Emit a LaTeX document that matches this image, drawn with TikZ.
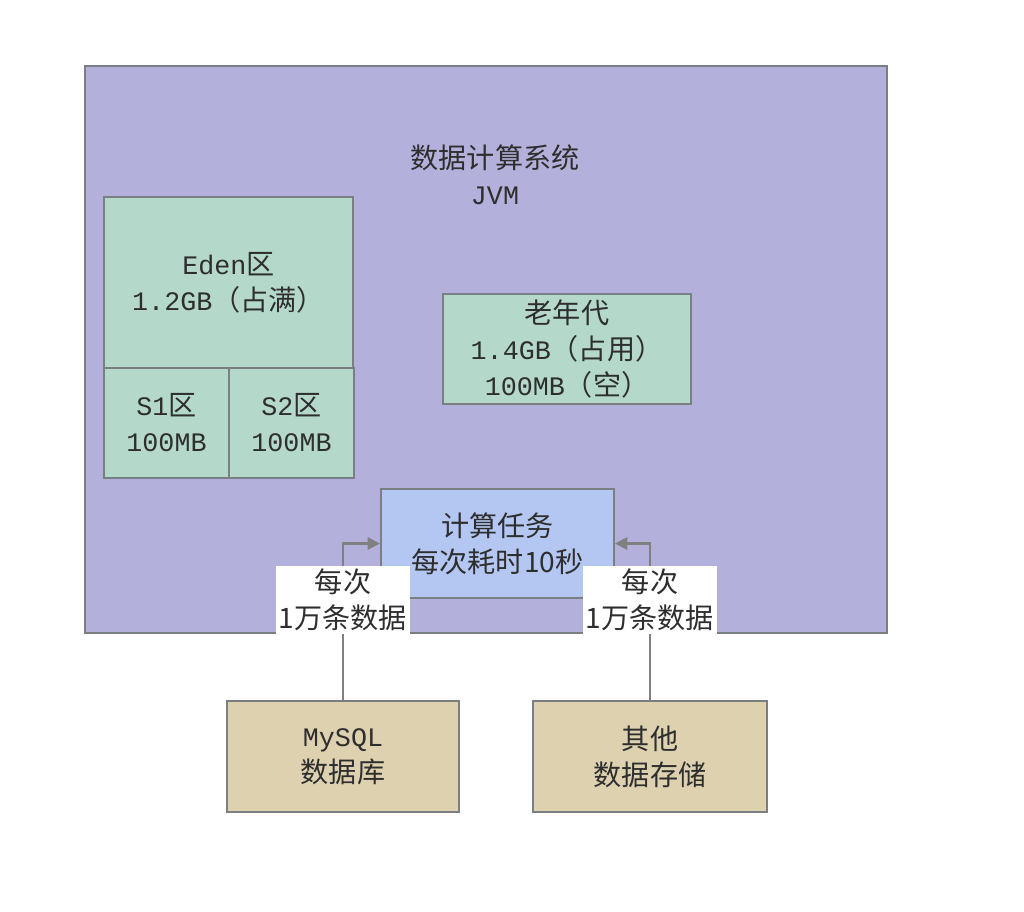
\documentclass[tikz,border=0pt]{standalone}
\usepackage{fontspec}
\setmainfont{Noto Sans CJK SC}
\newfontfamily\mono[Scale=0.95]{Liberation Mono}
\usetikzlibrary{arrows.meta, positioning}

\definecolor{jvmfill}{HTML}{B3B1DB}
\definecolor{genfill}{HTML}{B4D9CB}
\definecolor{taskfill}{HTML}{B4C7F2}
\definecolor{storefill}{HTML}{DDD1AF}
\definecolor{edgegray}{HTML}{7A7F82}
\definecolor{linegray}{HTML}{808080}
\definecolor{txt}{HTML}{2E2E2E}

\begin{document}
\begin{tikzpicture}[x=0.02cm, y=-0.02cm,
    font=\fontsize{16}{20.5}\selectfont, text=txt,
    box/.style={rectangle, draw=edgegray, line width=1.2pt, align=center, inner sep=0pt},
    flow/.style={draw=linegray, line width=1.2pt, -{Triangle[length=7pt, width=7pt]}},
    tag/.style={fill=white, align=center, inner sep=1.5pt}]
   \useasboundingbox (0,0) rectangle (1024,912);
        % Define nodes
        \node (jvm) [box, fill=jvmfill, minimum width=16.04cm, minimum height=11.34cm] at (486,349.5) {};
        \node (title) [align=center] at (495,175) {数据计算系统\\{\mono JVM}};
        \node (eden) [box, fill=genfill, minimum width=4.98cm, minimum height=3.42cm] at (228.5,282.5) {{\mono Eden}区\\{\mono 1.2GB}（占满）};
        \node (s1) [box, fill=genfill, minimum width=2.5cm, minimum height=2.2cm] at (166.5,423) {{\mono S1}区\\{\mono 100MB}};
        \node (s2) [box, fill=genfill, minimum width=2.5cm, minimum height=2.2cm] at (291.5,423) {{\mono S2}区\\{\mono 100MB}};
        \node (old) [box, fill=genfill, minimum width=4.96cm, minimum height=2.2cm] at (567,349) {老年代\\{\mono 1.4GB}（占用）\\{\mono 100MB}（空）};
        \node (task) [box, fill=taskfill, minimum width=4.66cm, minimum height=2.18cm] at (497.5,543.5) {计算任务\\每次耗时10秒};
        \node (mysql) [box, fill=storefill, minimum width=4.64cm, minimum height=2.22cm] at (343,756.5) {{\mono MySQL}\\数据库};
        \node (other) [box, fill=storefill, minimum width=4.68cm, minimum height=2.22cm] at (650,756.5) {其他\\数据存储};

        % Draw arrows
        \draw[flow] (mysql.north) |- (task.west);
        \draw[flow] (other.north) |- (task.east);

        % Add data descriptions
        \node (mysqltag) [tag] at (343,600) {每次\\1万条数据};
        \node (othertag) [tag] at (650,600) {每次\\1万条数据};
    \end{tikzpicture}
\end{document}
